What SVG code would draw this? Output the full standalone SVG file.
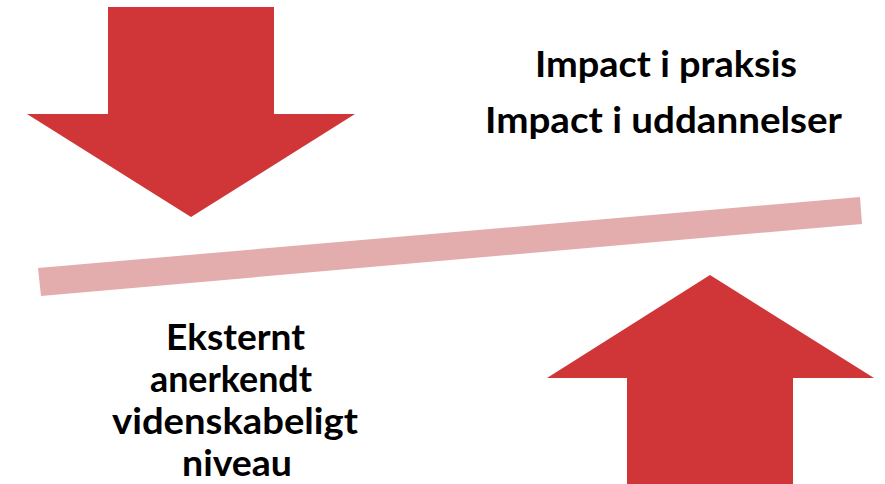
<svg xmlns="http://www.w3.org/2000/svg" width="885" height="484" viewBox="0 0 885 484">
<style>
.arrow{fill:#d03537}
.bar{fill:#e3adad}
.t{font-family:Lato,"Open Sans","Liberation Sans",sans-serif;font-weight:bold;font-size:37px;fill:#000;text-anchor:middle}
</style>
<rect width="885" height="484" fill="#fff"/>
<g id="down-arrow"><polygon class="arrow" points="108,7 274,7 274,114 355,114 191,217 27,114 108,114"/></g>
<g id="up-arrow"><polygon class="arrow" points="710,275 874,378 793,378 793,484 627,484 627,378 547,378"/></g>
<g id="balance-bar"><polygon class="bar" points="38,268 860,197 862,224 41,296"/></g>
<g id="impact-label">
<text class="t" x="666" y="77" textLength="262" lengthAdjust="spacingAndGlyphs">Impact i praksis</text>
<text class="t" x="663.5" y="133" textLength="357" lengthAdjust="spacingAndGlyphs">Impact i uddannelser</text>
</g>
<g id="science-label">
<text class="t" x="235.5" y="350" textLength="139" lengthAdjust="spacingAndGlyphs">Eksternt</text>
<text class="t" x="231" y="392" textLength="162" lengthAdjust="spacingAndGlyphs">anerkendt</text>
<text class="t" x="235" y="434" textLength="246" lengthAdjust="spacingAndGlyphs">videnskabeligt</text>
<text class="t" x="237" y="476" textLength="110" lengthAdjust="spacingAndGlyphs">niveau</text>
</g>
</svg>
